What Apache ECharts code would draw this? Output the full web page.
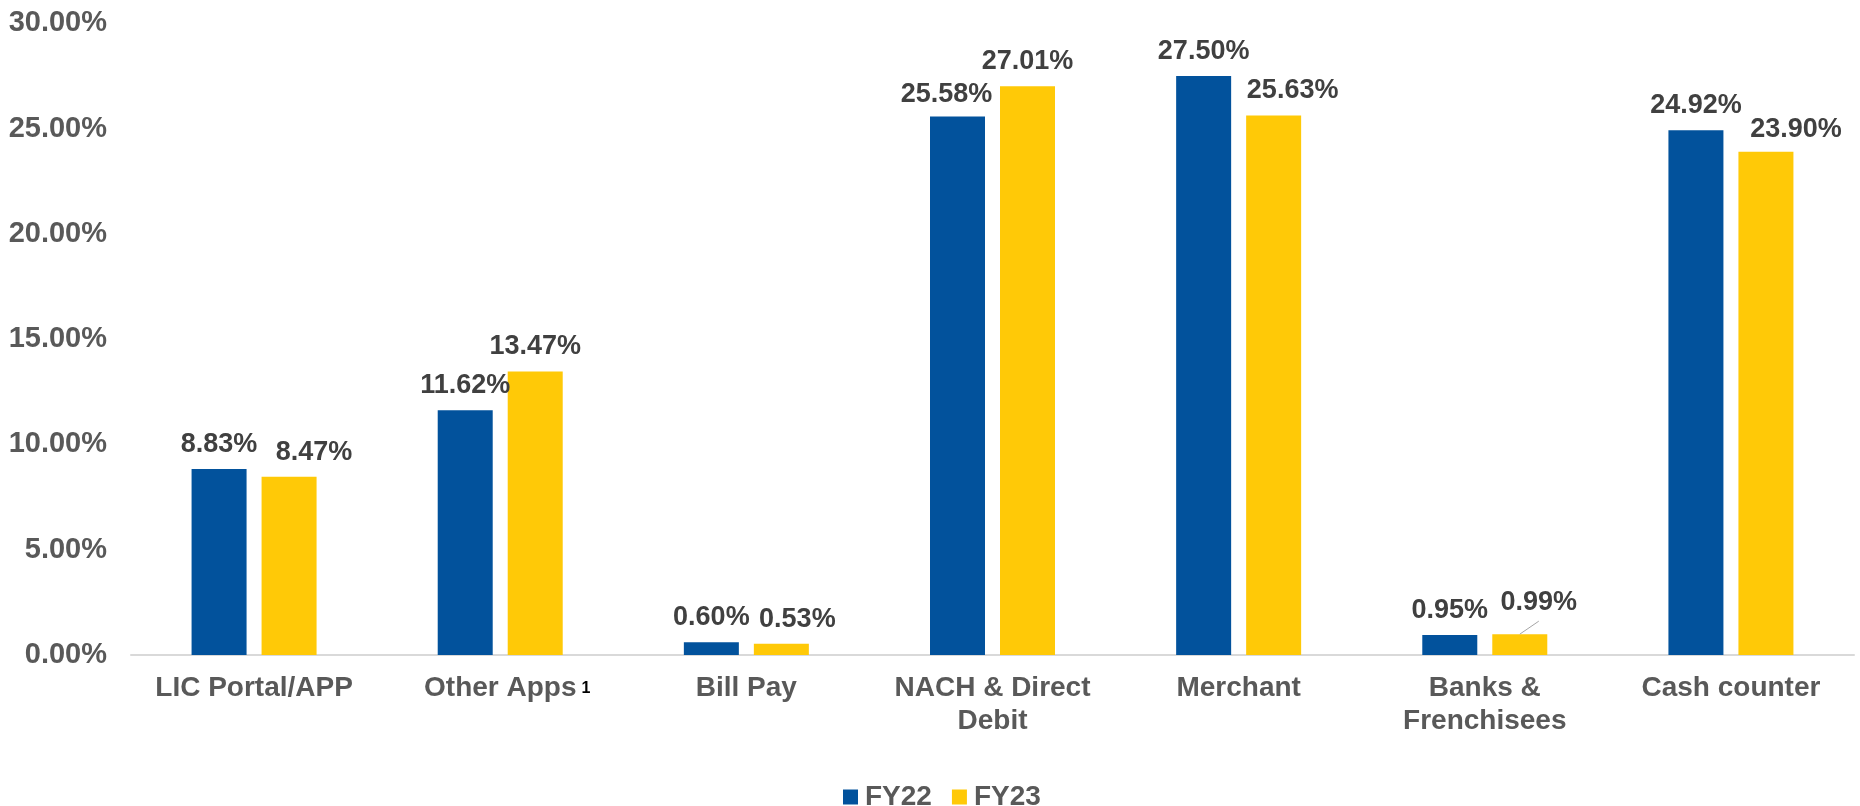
<!DOCTYPE html>
<html>
<head>
<meta charset="utf-8">
<script src="https://cdn.jsdelivr.net/npm/echarts@6/dist/echarts.min.js"></script>
<style>
  html, body { margin: 0; padding: 0; background: #ffffff; }
  #chart { width: 1860px; height: 806px; }
</style>
</head>
<body>
<div id="chart"></div>
<script>
// Share of collections by payment channel (%)
const categories = ['LIC Portal/APP', 'Other Apps', 'Bill Pay', 'NACH & Direct\nDebit', 'Merchant', 'Banks &\nFrenchisees', 'Cash counter'];
const seriesNames = ['FY22', 'FY23'];
const fy22 = [8.83, 11.62, 0.60, 25.58, 27.50, 0.95, 24.92];
const fy23 = [8.47, 13.47, 0.53, 27.01, 25.63, 0.99, 23.90];
const yTicks = [0, 5, 10, 15, 20, 25, 30];

// Hand-placed data labels: [seriesIndex, dataIndex] -> shift in px
const labelShift = {
  '1-0': [25, 0],
  '1-2': [16, 0],
  '0-3': [-11, 3],
  '1-4': [19, 0],
  '1-5': [19, -7],
  '1-6': [30, 2]
};

const FONT = 'Liberation Sans, Arial, Helvetica, sans-serif';
const BLUE = '#02529c';
const YELLOW = '#ffc907';
const BAR_W = 55;
const BAR_GAP = 15;

const chart = echarts.init(document.getElementById('chart'), null, { renderer: 'canvas' });

const valueLabel = {
  show: true,
  position: 'top',
  distance: 11,
  fontFamily: FONT,
  fontSize: 27,
  fontWeight: 'bold',
  color: '#404040',
  formatter: function (p) { return p.value.toFixed(2) + '%'; }
};

// Leader line from the FY23 "Banks & Frenchisees" bar up to its shifted label
const leaderIndex = 5;

chart.setOption({
  animation: false,
  backgroundColor: '#ffffff',
  textStyle: { fontFamily: FONT },
  grid: { left: 131, right: 6, top: 23.4, bottom: 151, containLabel: false },
  legend: {
    data: seriesNames,
    left: 838,
    top: 778,
    itemWidth: 15,
    itemHeight: 15,
    itemGap: 20,
    icon: 'rect',
    textStyle: { fontFamily: FONT, fontSize: 28, fontWeight: 'bold', color: '#595959', padding: [0, 0, 0, 2] }
  },
  xAxis: {
    type: 'category',
    data: categories,
    axisLine: { show: true, lineStyle: { color: '#d9d9d9', width: 2 } },
    axisTick: { show: false },
    axisLabel: {
      interval: 0,
      margin: 17,
      fontFamily: FONT,
      fontSize: 28,
      fontWeight: 'bold',
      color: '#595959',
      lineHeight: 33,
      formatter: function (v) {
        if (v === 'Other Apps') return '{pad|}' + v + '{sup|1}';
        return v;
      },
      rich: {
        pad: { width: 14 },
        sup: { fontSize: 16, fontWeight: 'bold', color: '#000000', padding: [0, 0, 0, 5] }
      }
    }
  },
  yAxis: {
    type: 'value',
    min: yTicks[0],
    max: yTicks[yTicks.length - 1],
    interval: yTicks[1] - yTicks[0],
    splitLine: { show: false },
    axisLine: { show: false },
    axisTick: { show: false },
    axisLabel: {
      margin: 24,
      fontFamily: FONT,
      fontSize: 29,
      fontWeight: 'bold',
      color: '#595959',
      formatter: function (v) { return v.toFixed(2) + '%'; }
    }
  },
  labelLayout: function (p) {
    const s = labelShift[p.seriesIndex + '-' + p.dataIndex];
    return s ? { dx: s[0], dy: s[1] } : {};
  },
  series: [
    {
      name: seriesNames[0],
      type: 'bar',
      data: fy22,
      barWidth: BAR_W,
      barGap: (BAR_GAP / BAR_W * 100) + '%',
      itemStyle: { color: BLUE },
      label: valueLabel
    },
    {
      name: seriesNames[1],
      type: 'bar',
      data: fy23,
      barWidth: BAR_W,
      barGap: (BAR_GAP / BAR_W * 100) + '%',
      itemStyle: { color: YELLOW },
      label: valueLabel
    },
    {
      type: 'custom',
      silent: true,
      z: 5,
      data: [[leaderIndex, fy23[leaderIndex]]],
      renderItem: function (params, api) {
        const pt = api.coord([api.value(0), api.value(1)]);
        const x0 = pt[0] + (BAR_W + BAR_GAP) / 2;
        return {
          type: 'line',
          shape: { x1: x0, y1: pt[1], x2: x0 + 19, y2: pt[1] - 13 },
          style: { stroke: '#a6a6a6', lineWidth: 1 }
        };
      }
    }
  ]
});
</script>
</body>
</html>
